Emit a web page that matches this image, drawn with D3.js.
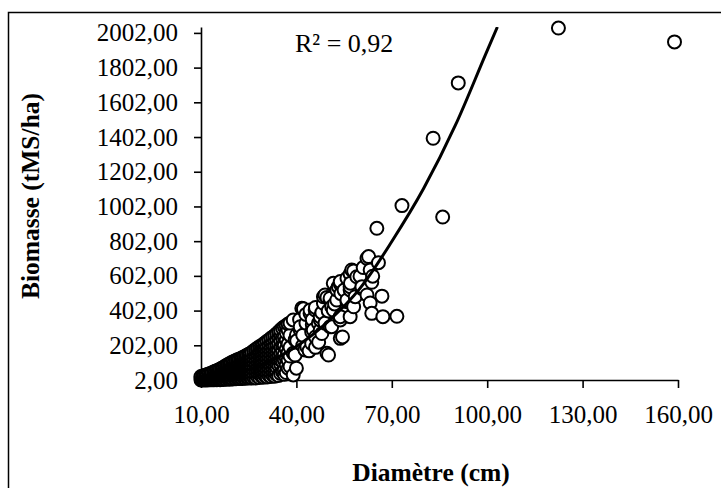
<!DOCTYPE html>
<html>
<head>
<meta charset="utf-8">
<script src="https://cdn.jsdelivr.net/npm/d3@7"></script>
<style>
  body { margin: 0; background: #fff; }
  text { font-family: "Liberation Serif", "Times New Roman", serif; fill: #000; }
</style>
</head>
<body>
<div id="chart"></div>
<script>
// axes
const xTicks = [10, 40, 70, 100, 130, 160];
const yTicks = [2, 202, 402, 602, 802, 1002, 1202, 1402, 1602, 1802, 2002];

// dense cluster of small trees: one diameter, several biomass values
const amasDiam = [10, 10.5, 11, 11.5, 12, 12.5, 13, 13.5, 14, 14.5, 15, 15.5, 16, 16.5, 17, 17.5,
  18, 18.5, 19, 19.5, 20, 20.5, 21, 21.5, 22, 22.5, 23, 23.5, 24, 24.5, 25, 25.5, 26,
  26.6, 27.2, 27.8, 28.4, 29, 29.6, 30.2, 30.8, 31.4, 32, 32.6, 33.2, 33.8, 34.4, 35,
  35.6, 36.2, 36.8, 37.4, 38];
const amasBiom = [
  [2,14,22], [3,13,24], [2,12,21,28], [4,15,26,30], [2,11,20,29,34], [5,16,27,36],
  [3,12,22,31,40], [6,17,28,38,44], [3,13,24,35,48], [6,18,30,41,52],
  [4,15,27,39,50,56], [7,19,31,43,54,60], [4,16,28,40,52,64], [8,20,33,46,58,69],
  [5,18,31,44,57,68,74], [9,22,35,48,61,72,80], [6,19,32,45,58,71,86],
  [10,23,37,50,64,78,91], [7,20,34,48,62,76,90,96], [11,25,39,53,67,81,95,101],
  [8,22,36,50,64,78,92,106], [12,26,40,55,70,84,98,110], [9,23,38,52,67,82,96,114],
  [13,28,43,58,73,88,103,118], [10,25,40,55,70,86,102,122], [14,30,45,61,77,93,109,126],
  [11,27,43,59,75,91,107,120,130], [15,31,47,63,79,95,111,127,135],
  [12,28,44,60,76,92,108,124,140], [16,32,48,65,82,99,116,133,145],
  [13,30,47,64,81,98,115,132,150], [17,34,52,70,88,106,124,142,155],
  [14,32,50,68,86,104,122,140,160],
  [18,40,62,84,106,128,150,170], [14,36,58,80,102,124,146,168,178],
  [22,44,66,88,110,132,154,176,186], [16,38,60,82,104,126,148,170,194],
  [24,46,68,90,112,134,156,178,200], [18,40,62,84,106,128,150,172,194,208],
  [26,48,70,92,114,136,158,180,202,216], [20,42,64,86,108,130,152,174,196,225],
  [28,50,72,94,116,138,160,182,204,232], [22,44,66,88,110,132,154,176,198,220,242],
  [30,52,74,96,118,140,162,184,206,228,250], [24,46,68,90,112,134,156,178,200,235,258],
  [34,56,78,100,122,144,166,188,210,240,268], [28,88,120,150,180,210,250,278],
  [40,95,117,150,194,230,265,290], [50,110,140,175,205,245,300],
  [35,60,117,150,200,250,309], [45,90,130,180,233,275,315],
  [70,117,160,210,290,325], [80,140,190,260,330]
];

// medium trees (diametre cm, biomasse)
const nuageMilieu = [
  [39,31],[39,156],[39,348],[39.6,146],[39.6,233],
  [40,70],[40,260],[40.1,228],[41,350],[41.2,290],[41.2,309],
  [41.7,415],[42,200],[42,260],[42.2,412],[42.7,175],[43,330],[43,380],
  [43.3,194],[44,170],[44.3,386],[44.3,405],[44.8,213],[44.8,280],
  [45,320],[45,350],[45.3,290],[45.9,405],[46,190],[46,250],[46,420],
  [46.9,329],[47,220],[47.5,290],[47.5,348],[47.5,367],[48,270],[48,390],
  [48.5,444],[48.5,482],[49,330],[49,492],[49.6,156],[49.6,478],
  [50,400],[50.1,146],[50.6,309],[50.6,463],[50.6,473],[51.1,309],[51.1,424],
  [51.6,405],[51.6,559],[52,440],[52.7,463],[52.7,521],[53.2,540],
  [53.8,242],[53.8,348],[53.8,367],[53.8,555],[53.8,569],[54,500],[54.5,250],
  [55,520],[55.9,453],[55.9,463],[55.9,588],[56.9,367],[56.9,521],[56.9,540],
  [56.9,613],[57,560],[57.4,636],[58,424],[58,630],[58.5,482],[59,597],
  [60,600],[60.6,530],[60.6,540],[61,650],[62.2,492],[62.2,703],[62.7,713],
  [63.2,446],[63.2,636],[63.7,386],[63.7,565],[64,600],[65.3,876],[65.8,678],
  [66.9,485],[67.2,367],[71.6,369]
];

// large isolated trees
const grandsArbres = [
  [73.2,1007],[83,1395],[86,941],[90.9,1714],[122.4,2030],[158.9,1950]
];

// trend curve
const courbeX = [10, 20, 30, 40, 50, 60, 70, 80, 90, 100, 103.2];
const courbeY = [5, 34, 95, 195, 340, 530, 800, 1105, 1470, 1900, 2036];

const W = 721, H = 488;
const svg = d3.select("#chart").append("svg")
  .attr("width", W)
  .attr("height", H);

svg.append("rect")
  .attr("x", 8.5).attr("y", 12.5)
  .attr("width", 800).attr("height", 600)
  .attr("fill", "#fff")
  .attr("stroke", "#000")
  .attr("stroke-width", 1.5);

const x = d3.scaleLinear().domain([10, 160]).range([201, 678]);
const y = d3.scaleLinear().domain([2, 2036]).range([380, 27]);

const fmt = d => d3.format(".2f")(d).replace(".", ",");

const yAxis = svg.append("g")
  .attr("transform", "translate(201,0)")
  .call(d3.axisLeft(y).tickValues(yTicks).tickSize(7).tickSizeOuter(0).tickPadding(16).tickFormat(fmt));

const xAxis = svg.append("g")
  .attr("transform", "translate(0,380)")
  .call(d3.axisBottom(x).tickValues(xTicks).tickSize(8).tickSizeOuter(0).tickPadding(17).tickFormat(fmt));

[yAxis, xAxis].forEach(g => {
  g.selectAll("path, line").attr("stroke", "#000").attr("stroke-width", 1.6);
  g.selectAll("text").style("font-size", "25px").attr("fill", "#000");
});

const amas = amasDiam.flatMap((d, i) => amasBiom[i].map(b => [d, b]));
const points = d3.sort(amas.concat(nuageMilieu, grandsArbres), d => d[0]);

svg.append("g")
  .selectAll("circle")
  .data(points)
  .join("circle")
  .attr("cx", d => x(d[0]))
  .attr("cy", d => y(d[1]))
  .attr("r", 6.5)
  .attr("fill", "#fff")
  .attr("stroke", "#000")
  .attr("stroke-width", 2);

svg.append("clipPath").attr("id", "zone")
  .append("rect")
  .attr("x", 201).attr("y", 27)
  .attr("width", 477).attr("height", 353);

const courbe = courbeX.map((v, i) => [v, courbeY[i]]);
svg.append("path")
  .datum(courbe)
  .attr("clip-path", "url(#zone)")
  .attr("fill", "none")
  .attr("stroke", "#000")
  .attr("stroke-width", 3)
  .attr("d", d3.line().x(d => x(d[0])).y(d => y(d[1])).curve(d3.curveMonotoneX));

svg.append("text")
  .attr("x", 295).attr("y", 52)
  .style("font-size", "26px")
  .text("R² = 0,92");

svg.append("text")
  .attr("x", 431).attr("y", 481)
  .attr("text-anchor", "middle")
  .style("font-size", "25.5px")
  .style("font-weight", "bold")
  .text("Diamètre (cm)");

svg.append("text")
  .attr("transform", "translate(39,196) rotate(-90)")
  .attr("text-anchor", "middle")
  .style("font-size", "25.5px")
  .style("font-weight", "bold")
  .text("Biomasse (tMS/ha)");
</script>
</body>
</html>
